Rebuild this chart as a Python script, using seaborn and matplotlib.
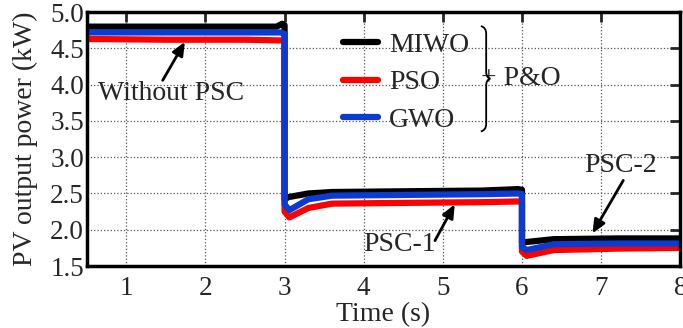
# PV output power under partial shading, MIWO / PSO / GWO + P&O
import numpy as np
import pandas as pd
import matplotlib
matplotlib.use('Agg')
import matplotlib.pyplot as plt
from matplotlib.lines import Line2D
from matplotlib.path import Path
from matplotlib.patches import PathPatch
import seaborn as sns

# ---- data (time in s, power in kW) ----
miwo_t = [0.5, 1.5, 2.5, 2.9, 2.97, 3.0, 3.0, 3.05, 3.3, 3.6, 4.5, 5.5, 5.95, 6.0, 6.0, 6.05, 6.4, 7.2, 8.0]
miwo_v = [4.80, 4.80, 4.80, 4.80, 4.84, 4.82, 2.42, 2.45, 2.50, 2.52, 2.53, 2.54, 2.56, 2.55, 1.82, 1.83, 1.87, 1.88, 1.88]

pso_t = [0.5, 1.5, 2.5, 2.95, 3.0, 3.0, 3.06, 3.3, 3.6, 4.5, 5.5, 5.95, 6.0, 6.0, 6.06, 6.4, 7.2, 8.0]
pso_v = [4.63, 4.62, 4.62, 4.61, 4.60, 2.25, 2.17, 2.30, 2.36, 2.37, 2.38, 2.39, 2.38, 1.70, 1.64, 1.72, 1.74, 1.75]

gwo_t = [0.5, 1.5, 2.5, 2.95, 3.0, 3.0, 3.06, 3.3, 3.6, 4.5, 5.5, 5.95, 6.0, 6.0, 6.06, 6.4, 7.2, 8.0]
gwo_v = [4.72, 4.72, 4.72, 4.72, 4.70, 2.35, 2.27, 2.42, 2.47, 2.48, 2.49, 2.50, 2.49, 1.76, 1.72, 1.80, 1.81, 1.81]

methods = ['MIWO', 'PSO', 'GWO']
colors = {'MIWO': '#000000', 'PSO': '#ff0000', 'GWO': '#0a3cd2'}

x_ticks = [1, 2, 3, 4, 5, 6, 7, 8]
y_ticks = [1.5, 2.0, 2.5, 3.0, 3.5, 4.0, 4.5, 5.0]

df = pd.concat([
    pd.DataFrame({'t': miwo_t, 'P': miwo_v, 'method': 'MIWO'}),
    pd.DataFrame({'t': pso_t, 'P': pso_v, 'method': 'PSO'}),
    pd.DataFrame({'t': gwo_t, 'P': gwo_v, 'method': 'GWO'}),
], ignore_index=True)

sns.set_style('white')
plt.rcParams['font.family'] = ['Liberation Serif', 'DejaVu Serif']

FS = 20

fig = plt.figure(figsize=(6.83, 3.28), dpi=100)
ax = fig.add_axes([0.127, 0.189, 0.869, 0.774])

sns.lineplot(data=df, x='t', y='P', hue='method', hue_order=methods, palette=colors,
             estimator=None, sort=False, linewidth=4.5, legend=False, ax=ax)

ax.set_xlim(0.5, 8)
ax.set_ylim(1.5, 5.0)
ax.set_xticks(x_ticks)
ax.set_yticks(y_ticks)
ax.set_xticklabels([str(v) for v in x_ticks])
ax.set_yticklabels(['{:.1f}'.format(v) for v in y_ticks])
ax.tick_params(direction='in', length=7, width=2, top=True, right=True, labelsize=19.5)
ax.tick_params(axis='x', pad=7)
ax.tick_params(axis='y', pad=2)
ax.grid(True, linestyle=':', color='#555555', linewidth=0.9)
for s in ax.spines.values():
    s.set_linewidth(2.5)
    s.set_color('black')

ax.set_xlabel('Time (s)', fontsize=FS, labelpad=1)
ax.set_ylabel('PV output power (kW)', fontsize=FS, labelpad=9)

# legend without frame
handles = [Line2D([0], [0], color=colors[m], linewidth=4.5, solid_capstyle='round') for m in methods]
ax.legend(handles, methods, loc='upper left', bbox_to_anchor=(0.432, 0.92), frameon=False,
          fontsize=FS, handlelength=1.25, handletextpad=0.4, labelspacing=0.43,
          borderpad=0, borderaxespad=0)

# brace + P&O
verts = [(0.664, 0.945), (0.673, 0.94), (0.673, 0.915),
         (0.673, 0.765),
         (0.673, 0.742), (0.680, 0.738),
         (0.673, 0.734), (0.673, 0.711),
         (0.673, 0.560),
         (0.673, 0.535), (0.664, 0.530)]
codes = [Path.MOVETO, Path.CURVE3, Path.CURVE3, Path.LINETO,
         Path.CURVE3, Path.CURVE3, Path.CURVE3, Path.CURVE3,
         Path.LINETO, Path.CURVE3, Path.CURVE3]
ax.add_patch(PathPatch(Path(verts, codes), transform=ax.transAxes, fill=False,
                       linewidth=1.3, color='black', zorder=5))
ax.text(0.665, 0.738, '+ P&O', transform=ax.transAxes, fontsize=FS, va='center', ha='left')

# annotations
arrow = dict(arrowstyle='-|>,head_length=0.8,head_width=0.35', color='black', lw=2, shrinkA=0, shrinkB=0)
ax.annotate('', xy=(1.74, 4.59), xytext=(1.46, 4.06), arrowprops=arrow)
ax.text(1.57, 3.88, 'Without PSC', fontsize=FS, ha='center', va='center')
ax.annotate('', xy=(5.15, 2.35), xytext=(4.90, 1.85), arrowprops=arrow)
ax.text(4.45, 1.80, 'PSC-1', fontsize=FS, ha='center', va='center')
ax.annotate('', xy=(6.89, 1.95), xytext=(7.28, 2.68), arrowprops=arrow)
ax.text(7.24, 2.89, 'PSC-2', fontsize=FS, ha='center', va='center')

plt.savefig('out.png', dpi=100)
